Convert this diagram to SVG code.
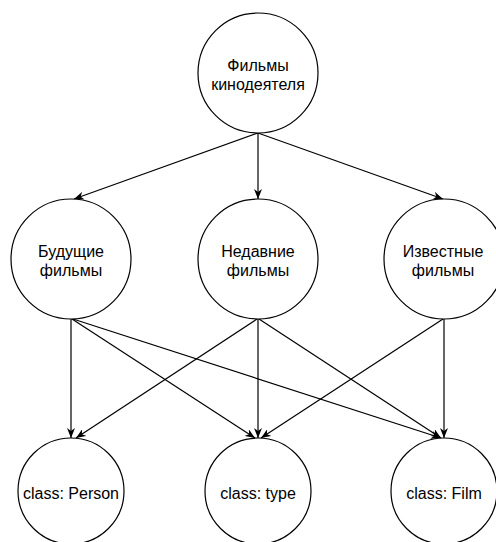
<svg xmlns="http://www.w3.org/2000/svg" width="496" height="542" viewBox="0 0 496 542">
  <style>
    .node circle { fill: #ffffff; stroke: #000000; stroke-width: 1.2; }
    .node text { font-family: "Liberation Sans", Arial, sans-serif; font-size: 16px; fill: #000000; text-anchor: middle; }
    .edges line { stroke: #000000; stroke-width: 1.2; fill: none; marker-end: url(#arrow); }
  </style>
  <defs>
    <marker id="arrow" viewBox="0 0 10 8" refX="10" refY="4" markerWidth="10" markerHeight="8" markerUnits="userSpaceOnUse" orient="auto">
      <path d="M0,0 L10,4 L0,8 L3,4 Z" fill="#000000"/>
    </marker>
  </defs>
  <rect width="496" height="542" fill="#ffffff"/>

  <g class="edges">
    <line x1="258" y1="133" x2="74" y2="199"/>
    <line x1="258" y1="133" x2="258" y2="199"/>
    <line x1="258" y1="133" x2="443" y2="199"/>

    <line x1="71" y1="319" x2="71" y2="438"/>
    <line x1="72" y1="319" x2="255" y2="438"/>
    <line x1="73" y1="319" x2="441" y2="438"/>

    <line x1="257" y1="319" x2="76" y2="438"/>
    <line x1="258" y1="319" x2="258" y2="438"/>
    <line x1="259" y1="319" x2="441" y2="438"/>

    <line x1="443" y1="319" x2="261" y2="438"/>
    <line x1="444" y1="319" x2="444" y2="438"/>
  </g>

  <g id="node-filmmaker" class="node">
    <circle cx="258" cy="73" r="60"/>
    <text x="258" y="71">Фильмы</text>
    <text x="258" y="90">кинодеятеля</text>
  </g>

  <g id="node-future" class="node">
    <circle cx="71" cy="259" r="60"/>
    <text x="71" y="257">Будущие</text>
    <text x="71" y="276">фильмы</text>
  </g>

  <g id="node-recent" class="node">
    <circle cx="258" cy="259" r="60"/>
    <text x="258" y="257">Недавние</text>
    <text x="258" y="276">фильмы</text>
  </g>

  <g id="node-known" class="node">
    <circle cx="444" cy="259" r="60"/>
    <text x="443" y="257">Известные</text>
    <text x="443" y="276">фильмы</text>
  </g>

  <g id="node-person" class="node">
    <circle cx="71" cy="491" r="53"/>
    <text x="71" y="499">class: Person</text>
  </g>

  <g id="node-type" class="node">
    <circle cx="258" cy="491" r="53"/>
    <text x="258" y="499">class: type</text>
  </g>

  <g id="node-film" class="node">
    <circle cx="444" cy="491" r="53"/>
    <text x="444" y="499">class: Film</text>
  </g>
</svg>
